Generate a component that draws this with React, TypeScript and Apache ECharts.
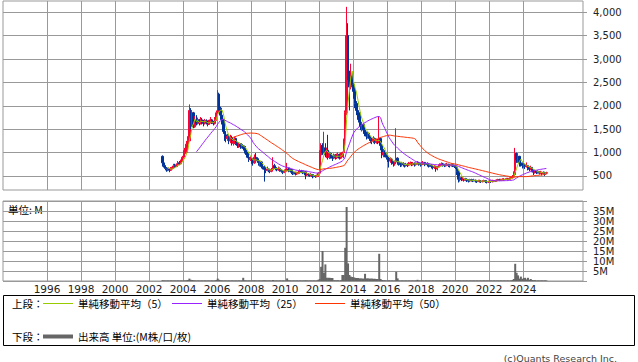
import React, { useEffect, useRef } from 'react';
import * as echarts from 'echarts';

// Monthly data from Oct 2002 to May 2025
const startYear = 2002;
const startMonth = 10;
const firstOpen = 920;

const closes = [
  780, 720, 660, // 2002
  640, 650, 620, 660, 690, 720, 700, 740, 780, 760, 820, 900, // 2003
  980, 1000, 1180, 1250, 1900, 1600, 1850, 1550, 1700, 1620, 1700, 1650, // 2004
  1700, 1650, 1620, 1680, 1640, 1600, 1650, 1700, 1650, 1620, 1700, 1850, // 2005
  2250, 1950, 1800, 1700, 1450, 1380, 1300, 1350, 1250, 1320, 1200, 1250, // 2006
  1300, 1200, 1150, 1180, 1120, 1150, 1130, 1050, 1000, 900, 850, 880, // 2007
  800, 780, 900, 870, 820, 760, 800, 700, 680, 640, 620, 650, // 2008
  620, 600, 640, 720, 680, 650, 630, 660, 620, 600, 580, 600, // 2009
  620, 650, 610, 640, 580, 560, 570, 540, 560, 580, 600, 590, // 2010
  570, 590, 520, 540, 520, 510, 530, 490, 500, 490, 500, 560, // 2011
  950, 1150, 1000, 1100, 950, 1050, 900, 980, 920, 880, 950, 900, // 2012
  920, 960, 880, 950, 1000, 1270, 1850, 3500, 2700, 2400, 2650, 2450, // 2013
  2350, 2050, 1900, 1850, 1650, 1550, 1600, 1480, 1420, 1350, 1400, 1300, // 2014
  1280, 1250, 1300, 1220, 1260, 1230, 1300, 1150, 950, 1000, 960, 900, // 2015
  880, 820, 860, 800, 760, 800, 880, 800, 760, 740, 770, 740, // 2016
  720, 750, 730, 760, 780, 750, 770, 740, 760, 780, 760, 740, // 2017
  760, 780, 750, 770, 740, 720, 730, 700, 680, 700, 650, 690, // 2018
  720, 740, 760, 740, 720, 730, 750, 730, 720, 740, 720, 700, // 2019
  690, 600, 430, 460, 420, 440, 410, 430, 400, 390, 420, 410, // 2020
  400, 410, 390, 380, 400, 390, 380, 390, 400, 380, 370, 380, // 2021
  390, 380, 400, 390, 400, 410, 420, 410, 420, 430, 420, 430, // 2022
  440, 430, 450, 460, 480, 530, 980, 850, 920, 780, 760, 720, // 2023
  740, 700, 720, 660, 640, 680, 620, 580, 600, 570, 590, 560, // 2024
  580, 550, 570, 560, 570, // 2025
];

const highs = [
  940, 800, 730,
  690, 680, 660, 690, 720, 760, 760, 770, 820, 820, 850, 930,
  1050, 1100, 1250, 1350, 2030, 1950, 1900, 1870, 1780, 1800, 1750, 1720,
  1760, 1740, 1700, 1720, 1710, 1680, 1700, 1760, 1720, 1680, 1760, 1900,
  2335, 2280, 1980, 1850, 1720, 1500, 1450, 1400, 1380, 1380, 1360, 1300,
  1340, 1320, 1230, 1220, 1200, 1200, 1180, 1150, 1080, 1020, 920, 920,
  900, 830, 960, 990, 900, 840, 830, 820, 740, 720, 680, 700,
  660, 650, 670, 900, 760, 710, 680, 700, 680, 640, 620, 640,
  650, 780, 680, 680, 650, 610, 600, 590, 590, 620, 640, 630,
  620, 620, 600, 570, 560, 540, 560, 540, 530, 520, 530, 580,
  1050, 1200, 1200, 1445, 1200, 1100, 1380, 1020, 1000, 940, 980, 970,
  980, 1000, 980, 1000, 1020, 1300, 1900, 4115, 3765, 2750, 2900, 2700,
  2500, 2380, 2100, 1950, 1850, 1700, 1650, 1620, 1520, 1450, 1450, 1420,
  1350, 1320, 1350, 1320, 1300, 1290, 1780, 1320, 1200, 1080, 1050, 1000,
  950, 900, 900, 880, 820, 830, 1520, 900, 820, 790, 800, 790,
  770, 780, 770, 800, 810, 800, 800, 790, 790, 820, 800, 780,
  800, 820, 800, 800, 790, 770, 760, 750, 730, 730, 720, 710,
  750, 770, 790, 780, 760, 770, 780, 760, 750, 770, 760, 740,
  730, 700, 620, 500, 480, 480, 460, 460, 450, 430, 440, 440,
  430, 440, 420, 410, 420, 420, 410, 410, 420, 410, 400, 400,
  410, 400, 420, 410, 420, 430, 440, 440, 440, 450, 450, 450,
  460, 460, 470, 480, 520, 600, 1100, 1000, 960, 930, 800, 790,
  780, 760, 790, 730, 700, 720, 690, 640, 630, 610, 620, 600,
  610, 590, 600, 590, 590,
];

const lows = [
  700, 680, 620,
  590, 600, 580, 610, 640, 680, 670, 690, 720, 730, 750, 800,
  880, 930, 980, 1150, 1240, 1500, 1550, 1520, 1530, 1580, 1600, 1580,
  1600, 1600, 1560, 1600, 1600, 1560, 1590, 1620, 1610, 1580, 1600, 1680,
  1830, 1900, 1700, 1600, 1400, 1250, 1220, 1250, 1180, 1200, 1150, 1150,
  1180, 1160, 1100, 1100, 1080, 1090, 1080, 980, 950, 880, 800, 820,
  760, 720, 760, 840, 780, 720, 700, 660, 640, 380, 560, 600,
  580, 560, 580, 630, 650, 620, 600, 610, 590, 570, 540, 560,
  580, 600, 580, 590, 540, 520, 530, 510, 520, 540, 550, 560,
  540, 550, 430, 500, 490, 480, 490, 450, 470, 460, 470, 480,
  540, 900, 950, 980, 900, 880, 850, 860, 870, 820, 860, 850,
  860, 880, 850, 860, 900, 880, 1250, 1800, 2550, 1900, 2350, 2300,
  2150, 1950, 1800, 1700, 1550, 1480, 1450, 1400, 1350, 1280, 1300, 1250,
  1200, 1180, 1200, 1180, 1190, 1180, 1200, 1050, 880, 900, 900, 850,
  800, 680, 780, 740, 700, 720, 760, 740, 720, 690, 700, 700,
  680, 700, 690, 710, 730, 710, 720, 700, 720, 740, 720, 700,
  720, 740, 710, 730, 700, 680, 690, 660, 640, 650, 590, 620,
  680, 700, 720, 700, 690, 700, 710, 690, 680, 700, 690, 670,
  650, 520, 360, 380, 390, 400, 380, 390, 370, 360, 370, 380,
  370, 380, 360, 350, 370, 360, 350, 360, 370, 350, 340, 350,
  360, 350, 360, 370, 370, 380, 390, 390, 400, 400, 400, 410,
  420, 410, 420, 430, 450, 470, 520, 780, 780, 700, 700, 660,
  680, 650, 680, 620, 600, 620, 580, 520, 550, 540, 550, 530,
  540, 510, 530, 500, 540,
];

// Volume in millions of shares
const volumes = [
  0.4, 0.3, 0.3,
  0.3, 0.3, 0.3, 0.3, 0.3, 0.3, 0.3, 0.3, 0.3, 0.3, 0.3, 0.3,
  0.3, 0.3, 0.4, 0.5, 1.2, 0.6, 0.5, 0.4, 0.3, 0.3, 0.3, 0.3,
  0.3, 0.3, 0.3, 0.3, 0.3, 0.3, 0.3, 0.3, 0.3, 0.3, 0.3, 0.5,
  1.2, 0.6, 0.4, 0.3, 0.3, 0.3, 0.3, 0.3, 0.3, 0.3, 0.3, 0.3,
  0.3, 0.3, 0.3, 0.3, 0.3, 0.3, 1.6, 0.4, 0.3, 0.3, 0.3, 0.3,
  0.3, 0.3, 0.4, 0.3, 0.3, 0.3, 0.3, 0.3, 0.3, 0.4, 0.3, 0.3,
  0.3, 0.3, 0.3, 0.5, 0.3, 0.3, 0.3, 0.3, 0.3, 0.3, 0.3, 0.3,
  0.3, 1.3, 0.4, 0.3, 0.3, 0.3, 0.3, 0.3, 0.3, 0.3, 0.3, 0.3,
  0.3, 0.3, 0.4, 0.3, 0.3, 0.3, 0.3, 0.3, 0.3, 0.3, 0.3, 0.6,
  1.0, 7.1, 15, 4.0, 8.3, 1.6, 1.6, 1.6, 1.5, 1.5, 0.4, 0.4,
  0.4, 0.4, 0.3, 0.4, 3.0, 3.0, 16.6, 37, 8.8, 3.0, 2.2, 2.0,
  1.8, 1.6, 1.5, 1.5, 1.3, 1.3, 1.2, 1.2, 3.6, 1.3, 1.3, 1.2,
  1.2, 1.2, 1.1, 1.1, 1.0, 1.0, 13.6, 1.0, 0.5, 0.4, 0.4, 0.3,
  0.3, 0.4, 0.3, 0.3, 0.3, 0.3, 4.6, 1.3, 0.3, 0.3, 0.3, 0.3,
  0.3, 0.3, 0.3, 0.3, 0.3, 0.3, 0.3, 0.3, 0.3, 0.6, 0.3, 0.3,
  0.3, 0.3, 0.3, 0.3, 0.3, 0.3, 0.3, 0.3, 0.3, 0.3, 0.3, 0.3,
  0.3, 0.3, 0.3, 0.3, 0.3, 0.3, 0.3, 0.3, 0.3, 0.3, 0.3, 0.3,
  0.3, 0.3, 0.4, 0.3, 0.3, 0.3, 0.3, 0.3, 0.3, 0.3, 0.3, 0.3,
  0.3, 0.3, 0.3, 0.3, 0.3, 0.3, 0.3, 0.3, 0.3, 0.3, 0.3, 0.3,
  0.3, 0.3, 0.3, 0.3, 0.3, 0.3, 0.3, 0.3, 0.3, 0.3, 0.3, 0.3,
  0.3, 0.3, 0.3, 0.3, 0.5, 1.0, 8.6, 4.1, 2.8, 1.2, 2.2, 1.0,
  1.5, 1.6, 0.8, 1.6, 0.6, 1.0, 0.5, 0.4, 0.4, 0.3, 0.3, 0.3,
  0.3, 0.3, 0.3, 0.3, 0.3,
];

const yearTicks = [1996, 1998, 2000, 2002, 2004, 2006, 2008, 2010, 2012, 2014, 2016, 2018, 2020, 2022, 2024];
const priceTicks = [500, 1000, 1500, 2000, 2500, 3000, 3500, 4000];
const xMin = 1993.41;
const xMax = 2027.53;

const maColors = { ma5: '#99cc00', ma25: '#9922ff', ma50: '#ff3300' };
const upColor = '#ff0033';
const downColor = '#003399';
const gridColor = '#999999';
const cjk = '"Noto Sans CJK JP", "Noto Sans CJK SC", sans-serif';
const latin = '"DejaVu Sans", Verdana, sans-serif';

function monthX(i: number): number {
  const m = startMonth - 1 + i;
  const y = startYear + Math.floor(m / 12);
  return y + ((m % 12) + 0.5) / 12;
}

function movingAverage(values: number[], n: number): (number | null)[] {
  return values.map((_, i) => {
    if (i < n - 1) return null;
    let s = 0;
    for (let k = i - n + 1; k <= i; k++) s += values[k];
    return s / n;
  });
}

export default function App() {
  const ref = useRef<HTMLDivElement>(null);

  useEffect(() => {
    if (!ref.current) return;
    const chart = echarts.init(ref.current, undefined, { renderer: 'svg' });

    const xs = closes.map((_, i) => monthX(i));
    const candleData = closes.map((c, i) => [xs[i], i === 0 ? firstOpen : closes[i - 1], c, lows[i], highs[i]]);
    const volData = volumes.map((v, i) => [xs[i], v]);
    const maLine = (n: number) =>
      movingAverage(closes, n)
        .map((v, i) => (v == null ? null : [xs[i], v]))
        .filter((d) => d !== null);

    const verticalGrid = {
      silent: true,
      symbol: ['none', 'none'],
      z: 1,
      animation: false,
      label: { show: false },
      emphasis: { disabled: true },
      lineStyle: { color: gridColor, type: 'solid', width: 1 },
      data: yearTicks.map((y) => ({ xAxis: y })),
    };

    const legendY1 = 303.5;
    const legendY2 = 336.5;
    const legendFont = `10.5px ${cjk}`;

    chart.setOption({
      animation: false,
      backgroundColor: '#ffffff',
      textStyle: { fontFamily: latin },
      grid: [
        { left: 3, top: 1, width: 580, height: 189, show: true, borderColor: gridColor, borderWidth: 1, backgroundColor: '#fff' },
        { left: 3, top: 201, width: 580, height: 80, show: true, borderColor: gridColor, borderWidth: 1, backgroundColor: '#fff' },
      ],
      xAxis: [
        {
          type: 'value', gridIndex: 0, min: xMin, max: xMax,
          axisLine: { show: false }, axisTick: { show: false }, axisLabel: { show: false }, splitLine: { show: false },
        },
        {
          type: 'value', gridIndex: 1, min: xMin, max: xMax,
          axisLine: { show: false }, axisTick: { show: false }, splitLine: { show: false },
          axisLabel: {
            customValues: yearTicks,
            formatter: (v: number) => String(Math.round(v)),
            fontSize: 10.5, color: '#222', margin: 2, fontFamily: latin,
          },
        },
      ],
      yAxis: [
        {
          type: 'value', gridIndex: 0, position: 'right', min: 200, max: 4240,
          splitNumber: 8, minInterval: 500, maxInterval: 500,
          axisLine: { show: false },
          axisTick: { show: true, length: 4, customValues: priceTicks, lineStyle: { color: gridColor } },
          axisLabel: {
            customValues: priceTicks,
            fontSize: 10, color: '#222', margin: 10, fontFamily: latin,
            formatter: (v: number) => v.toLocaleString('en-US'),
          },
          splitLine: { show: true, lineStyle: { color: gridColor, width: 1 } },
        },
        {
          type: 'value', gridIndex: 1, position: 'right', min: 0, max: 40, interval: 5,
          axisLine: { show: false },
          axisTick: { show: true, length: 4, lineStyle: { color: gridColor } },
          axisLabel: {
            fontSize: 10, color: '#222', margin: 10, fontFamily: latin,
            formatter: (v: number) => (v === 0 || v === 40 ? '' : `${v}M`),
          },
          splitLine: { show: true, lineStyle: { color: gridColor, width: 1 } },
        },
      ],
      series: [
        {
          name: 'price', type: 'candlestick', xAxisIndex: 0, yAxisIndex: 0,
          dimensions: ['x', 'open', 'close', 'lowest', 'highest'],
          encode: { x: 0, y: [1, 2, 3, 4] },
          data: candleData,
          barWidth: 1.8,
          itemStyle: { color: upColor, color0: downColor, borderColor: upColor, borderColor0: downColor, borderWidth: 1 },
          markLine: verticalGrid,
        },
        { name: '単純移動平均（5）', type: 'line', xAxisIndex: 0, yAxisIndex: 0, data: maLine(5), showSymbol: false, lineStyle: { color: maColors.ma5, width: 1 }, itemStyle: { color: maColors.ma5 } },
        { name: '単純移動平均（25）', type: 'line', xAxisIndex: 0, yAxisIndex: 0, data: maLine(25), showSymbol: false, lineStyle: { color: maColors.ma25, width: 1 }, itemStyle: { color: maColors.ma25 } },
        { name: '単純移動平均（50）', type: 'line', xAxisIndex: 0, yAxisIndex: 0, data: maLine(50), showSymbol: false, lineStyle: { color: maColors.ma50, width: 1 }, itemStyle: { color: maColors.ma50 } },
        {
          name: '出来高', type: 'bar', xAxisIndex: 1, yAxisIndex: 1, data: volData, barWidth: 2,
          itemStyle: { color: '#666666' },
          markLine: verticalGrid,
        },
      ],
      graphic: [
        { type: 'text', x: 8, y: 209, style: { text: '単位: M', font: `10.5px ${cjk}`, fill: '#000', verticalAlign: 'middle' } },
        { type: 'rect', shape: { x: 3.5, y: 295.5, width: 631, height: 50 }, style: { fill: 'none', stroke: '#000', lineWidth: 1 } },
        { type: 'text', x: 12, y: legendY1, style: { text: '上段：', font: legendFont, fill: '#000', verticalAlign: 'middle' } },
        { type: 'line', shape: { x1: 43, y1: legendY1, x2: 73, y2: legendY1 }, style: { stroke: maColors.ma5, lineWidth: 1 } },
        { type: 'text', x: 78, y: legendY1, style: { text: '単純移動平均（5）', font: legendFont, fill: '#000', verticalAlign: 'middle' } },
        { type: 'line', shape: { x1: 172, y1: legendY1, x2: 202, y2: legendY1 }, style: { stroke: maColors.ma25, lineWidth: 1 } },
        { type: 'text', x: 207, y: legendY1, style: { text: '単純移動平均（25）', font: legendFont, fill: '#000', verticalAlign: 'middle' } },
        { type: 'line', shape: { x1: 315, y1: legendY1, x2: 345, y2: legendY1 }, style: { stroke: maColors.ma50, lineWidth: 1 } },
        { type: 'text', x: 350, y: legendY1, style: { text: '単純移動平均（50）', font: legendFont, fill: '#000', verticalAlign: 'middle' } },
        { type: 'text', x: 12, y: legendY2, style: { text: '下段：', font: legendFont, fill: '#000', verticalAlign: 'middle' } },
        { type: 'line', shape: { x1: 43, y1: legendY2, x2: 73, y2: legendY2 }, style: { stroke: '#666666', lineWidth: 4 } },
        { type: 'text', x: 78, y: legendY2, style: { text: '出来高 単位:(M株/口/枚)', font: legendFont, fill: '#000', verticalAlign: 'middle' } },
        { type: 'text', x: 617, y: 353, style: { text: '(c)Quants Research Inc.', font: `9.5px ${latin}`, fill: '#444', align: 'right', verticalAlign: 'top' } },
      ],
    });

    return () => chart.dispose();
  }, []);

  return (
    <div
      ref={ref}
      style={{ position: 'fixed', left: 0, top: 0, width: 638, height: 362, background: '#fff' }}
    />
  );
}
